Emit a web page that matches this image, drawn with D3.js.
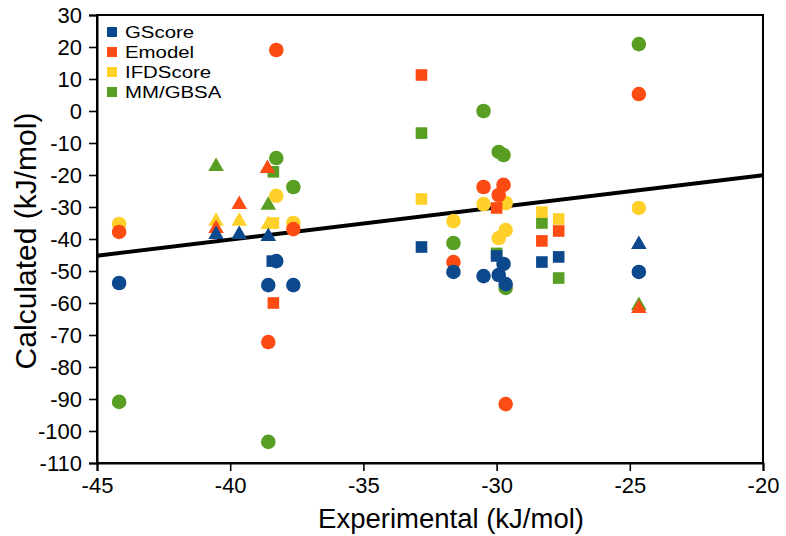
<!DOCTYPE html>
<html>
<head>
<meta charset="utf-8">
<script src="https://cdn.jsdelivr.net/npm/d3@7"></script>
<style>
  html, body { margin: 0; padding: 0; background: #fff; }
  svg { display: block; font-family: "Liberation Sans", Arial, Helvetica, sans-serif; }
</style>
</head>
<body>
<svg id="chart" width="786" height="536"></svg>
<script>
// ---------------- data ----------------
const seriesNames = ["GScore", "Emodel", "IFDScore", "MM/GBSA"];
const seriesColors = ["#0c488c", "#fd4b14", "#ffd02a", "#589e22"];
const xTicks = [-45, -40, -35, -30, -25, -20];
const yTicks = [30, 20, 10, 0, -10, -20, -30, -40, -50, -60, -70, -80, -90, -100, -110];
const fitX = [-45, -20];
const fitY = [-45.2, -20.1];

// [experimental, calculated, shape]
const gscore = [
  [-44.17, -53.75, "circle"], [-38.27, -46.9, "circle"], [-38.57, -54.4, "circle"], [-37.63, -54.4, "circle"],
  [-31.62, -50.3, "circle"], [-30.49, -51.6, "circle"], [-29.74, -47.8, "circle"], [-29.92, -51.25, "circle"],
  [-29.66, -54.1, "circle"], [-24.66, -50.3, "circle"],
  [-38.42, -46.9, "square"], [-32.82, -42.5, "square"], [-30.0, -45.3, "square"], [-28.3, -47.2, "square"], [-27.67, -45.6, "square"],
  [-40.53, -38.1, "triangle"], [-39.66, -38.1, "triangle"], [-38.57, -38.75, "triangle"], [-24.66, -41.25, "triangle"]
];
const emodel = [
  [-44.17, -37.8, "circle"], [-38.27, 19.06, "circle"], [-37.63, -36.9, "circle"], [-38.57, -72.2, "circle"],
  [-31.62, -47.2, "circle"], [-30.49, -23.75, "circle"], [-29.74, -23.1, "circle"], [-29.92, -26.25, "circle"],
  [-29.66, -91.6, "circle"], [-24.66, 5.3, "circle"],
  [-38.38, -60, "square"], [-32.82, 11.25, "square"], [-30.0, -30.3, "square"], [-28.3, -40.6, "square"], [-27.67, -37.5, "square"],
  [-40.53, -36.25, "triangle"], [-39.66, -28.75, "triangle"], [-38.6, -17.5, "triangle"], [-24.66, -61.25, "triangle"]
];
const ifdscore = [
  [-44.17, -35.3, "circle"], [-38.27, -26.5, "circle"], [-37.63, -35, "circle"], [-31.62, -34.4, "circle"],
  [-30.49, -29.1, "circle"], [-29.66, -28.75, "circle"], [-29.66, -37.2, "circle"], [-29.92, -39.7, "circle"],
  [-24.66, -30.3, "circle"],
  [-38.38, -35, "square"], [-32.82, -27.5, "square"], [-28.3, -31.6, "square"], [-27.67, -33.75, "square"],
  [-40.53, -34, "triangle"], [-39.66, -34, "triangle"], [-38.57, -35, "triangle"]
];
const mmgbsa = [
  [-44.17, -90.9, "circle"], [-38.27, -14.7, "circle"], [-37.63, -23.75, "circle"], [-38.57, -103.4, "circle"],
  [-31.62, -41.25, "circle"], [-30.49, 0, "circle"], [-29.92, -12.8, "circle"], [-29.74, -13.75, "circle"],
  [-29.66, -55.3, "circle"], [-24.66, 20.9, "circle"],
  [-38.38, -19, "square"], [-32.82, -6.9, "square"], [-30.0, -44.5, "square"], [-28.3, -35, "square"], [-27.67, -52.2, "square"],
  [-40.53, -16.9, "triangle"], [-38.57, -29, "triangle"], [-24.66, -60.3, "triangle"]
];
const seriesData = [gscore, emodel, ifdscore, mmgbsa];

// ---------------- layout ----------------
const svg = d3.select("#chart");
const mLeft = 97, mRight = 763, mTop = 15, mBottom = 463;

const x = d3.scaleLinear().domain([-45, -20]).range([mLeft, mRight]);
const y = d3.scaleLinear().domain([-110, 30]).range([mBottom, mTop]);

// frame
svg.append("rect")
  .attr("x", mLeft).attr("y", mTop)
  .attr("width", mRight - mLeft).attr("height", mBottom - mTop)
  .attr("fill", "none").attr("stroke", "#000").attr("stroke-width", 2);

// axes (plain hyphen-minus labels as in the reference)
const fmt = d => String(d);
const yAxis = svg.append("g")
  .attr("transform", `translate(${mLeft},0)`)
  .call(d3.axisLeft(y).tickValues(yTicks).tickSize(8).tickPadding(7).tickFormat(fmt));
const xAxis = svg.append("g")
  .attr("transform", `translate(0,${mBottom})`)
  .call(d3.axisBottom(x).tickValues(xTicks).tickSize(8).tickPadding(6).tickFormat(fmt));
[xAxis, yAxis].forEach(g => {
  g.select(".domain").attr("stroke-width", 2).attr("stroke", "#000");
  g.selectAll(".tick line").attr("stroke-width", 1.6).attr("stroke", "#000");
  g.selectAll(".tick text")
    .attr("font-family", "'Liberation Sans', Arial, sans-serif")
    .attr("font-size", 22).attr("fill", "#000");
});
xAxis.selectAll(".tick text").attr("dy", "0.72em");

// axis titles
svg.append("text")
  .attr("x", (mLeft + mRight) / 2 + 21).attr("y", 528)
  .attr("text-anchor", "middle")
  .attr("font-size", 27.5)
  .text("Experimental (kJ/mol)");
svg.append("text")
  .attr("transform", `translate(36,${241}) rotate(-90)`)
  .attr("text-anchor", "middle")
  .attr("font-size", 30)
  .text("Calculated (kJ/mol)");

// fit line (behind markers)
const fit = fitX.map((v, i) => [v, fitY[i]]);
svg.append("path")
  .datum(fit)
  .attr("d", d3.line().x(d => x(d[0])).y(d => y(d[1])))
  .attr("stroke", "#000").attr("stroke-width", 4).attr("fill", "none");

// markers: draw MM/GBSA first, GScore last (on top)
const tri = d3.symbol().type(d3.symbolTriangle).size(105);
const plot = svg.append("g");
[3, 2, 1, 0].forEach(si => {
  const g = plot.append("g").attr("fill", seriesColors[si]);
  const data = seriesData[si];
  g.selectAll("circle").data(data.filter(d => d[2] === "circle")).join("circle")
    .attr("cx", d => x(d[0])).attr("cy", d => y(d[1])).attr("r", 7.3);
  g.selectAll("rect").data(data.filter(d => d[2] === "square")).join("rect")
    .attr("x", d => x(d[0]) - 5.8).attr("y", d => y(d[1]) - 5.8)
    .attr("width", 11.6).attr("height", 11.6);
  g.selectAll("path").data(data.filter(d => d[2] === "triangle")).join("path")
    .attr("d", tri)
    .attr("transform", d => `translate(${x(d[0])},${y(d[1]) + 1.5})`);
});

// legend
const legend = svg.append("g").attr("transform", "translate(107,32)");
seriesNames.forEach((name, i) => {
  const row = legend.append("g").attr("transform", `translate(0,${i * 20})`);
  row.append("rect").attr("x", 0).attr("y", -5).attr("width", 10).attr("height", 10)
    .attr("fill", seriesColors[i]);
  row.append("text")
    .attr("transform", "translate(18,0) scale(1.2,1)")
    .attr("dy", "0.36em")
    .attr("font-size", 17).text(name);
});
</script>
</body>
</html>
